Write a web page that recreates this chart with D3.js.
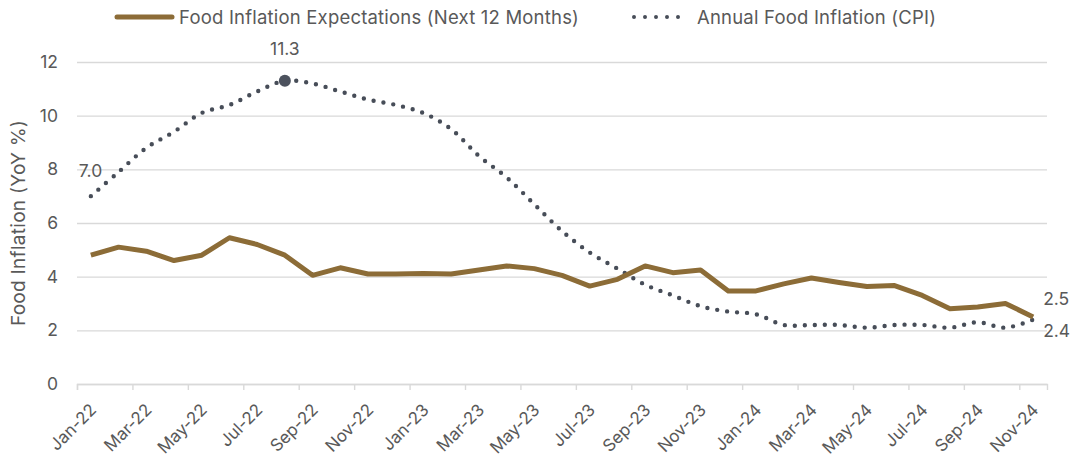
<!DOCTYPE html>
<html>
<head>
<meta charset="utf-8">
<script src="https://cdn.jsdelivr.net/npm/d3@7"></script>
<style>
  html, body { margin: 0; padding: 0; background: #ffffff; }
  svg { display: block; font-family: Inter, "Liberation Sans", Arial, sans-serif; }
</style>
</head>
<body>
<svg id="chart" width="1073" height="459"></svg>
<script>
// Monthly categories, Jan-2022 through Nov-2024
const months = [
  "Jan-22","Feb-22","Mar-22","Apr-22","May-22","Jun-22","Jul-22","Aug-22","Sep-22","Oct-22","Nov-22","Dec-22",
  "Jan-23","Feb-23","Mar-23","Apr-23","May-23","Jun-23","Jul-23","Aug-23","Sep-23","Oct-23","Nov-23","Dec-23",
  "Jan-24","Feb-24","Mar-24","Apr-24","May-24","Jun-24","Jul-24","Aug-24","Sep-24","Oct-24","Nov-24"
];

// Consumers' expected food inflation over the next 12 months (%)
const expectations = [
  4.8, 5.1, 4.95, 4.6, 4.8, 5.45, 5.2, 4.8, 4.05, 4.33, 4.1, 4.1,
  4.12, 4.1, 4.25, 4.4, 4.3, 4.05, 3.65, 3.9, 4.4, 4.15, 4.25, 3.47,
  3.47, 3.73, 3.95, 3.78, 3.63, 3.67, 3.3, 2.8, 2.87, 3.0, 2.5
];

// Annual food inflation, CPI (% YoY)
const cpiFood = [
  7.0, 7.9, 8.8, 9.4, 10.1, 10.4, 10.9, 11.3, 11.2, 10.9, 10.6, 10.4,
  10.1, 9.5, 8.5, 7.7, 6.7, 5.7, 4.9, 4.3, 3.7, 3.3, 2.9, 2.7,
  2.6, 2.2, 2.2, 2.2, 2.1, 2.2, 2.2, 2.1, 2.3, 2.1, 2.4
];

const yTicks = [0, 2, 4, 6, 8, 10, 12];
const seriesNames = ["Food Inflation Expectations (Next 12 Months)", "Annual Food Inflation (CPI)"];
const yTitle = "Food Inflation (YoY %)";

const brown = "#8c6c37";
const slate = "#474d58";
const grid = "#d9d9d9";
const textCol = "#595959";

const svg = d3.select("#chart");
const plot = { left: 77, right: 1047, top: 62, bottom: 384 };

// Category index scale: month i occupies [i, i+1]; points sit at i + 0.5
const xi = d3.scaleLinear().domain([0, months.length]).range([plot.left, plot.right]);
const band = xi(1) - xi(0);
const y = d3.scaleLinear().domain([0, 12]).range([plot.bottom, plot.top]);
const px = i => xi(i + 0.5);

// Horizontal gridlines with value labels
const yAxis = svg.append("g")
  .attr("transform", `translate(${plot.left},0)`)
  .call(d3.axisLeft(y).tickValues(yTicks).tickSize(-(plot.right - plot.left)).tickPadding(19).tickFormat(d3.format("d")));
yAxis.select(".domain").remove();
yAxis.selectAll(".tick line").attr("stroke", grid).attr("stroke-width", 1.4);
yAxis.selectAll(".tick text")
  .attr("fill", textCol).attr("font-size", 17.5).attr("font-family", "Inter, sans-serif");

// Category axis: ticks on month boundaries, labels on every other month
const xAxis = svg.append("g")
  .attr("transform", `translate(0,${plot.bottom})`)
  .call(d3.axisBottom(xi)
    .tickValues(d3.range(0, months.length, 2))
    .tickSize(6)
    .tickFormat(i => months[i]));
xAxis.select(".domain").attr("stroke", grid).attr("stroke-width", 1.4);
xAxis.selectAll(".tick line").attr("stroke", grid).attr("stroke-width", 1.4);
xAxis.selectAll(".tick text")
  .attr("fill", textCol)
  .attr("font-size", 17)
  .attr("font-family", "Inter, sans-serif")
  .attr("text-anchor", "end")
  .attr("dy", null)
  .attr("y", 0)
  .attr("transform", `translate(${band / 2 + 6},27) rotate(-45)`);

// Y axis title
svg.append("text")
  .attr("transform", `translate(25,${(plot.top + plot.bottom) / 2}) rotate(-90)`)
  .attr("text-anchor", "middle")
  .attr("fill", textCol)
  .attr("font-size", 19)
  .attr("letter-spacing", 0.3)
  .text(yTitle);

// CPI food inflation: smoothed dotted line
const cpiLine = d3.line().x((d, i) => px(i)).y(d => y(d)).curve(d3.curveCatmullRom.alpha(0.5));
svg.append("path")
  .datum(cpiFood)
  .attr("d", cpiLine)
  .attr("fill", "none")
  .attr("stroke", slate)
  .attr("stroke-width", 4.4)
  .attr("stroke-linecap", "round")
  .attr("stroke-dasharray", "0 10");

// Expectations: solid line
const expLine = d3.line().x((d, i) => px(i)).y(d => y(d));
svg.append("path")
  .datum(expectations)
  .attr("d", expLine)
  .attr("fill", "none")
  .attr("stroke", brown)
  .attr("stroke-width", 5)
  .attr("stroke-linejoin", "round");

// Peak marker and value callouts
const peakIdx = cpiFood.indexOf(d3.max(cpiFood));
svg.append("circle")
  .attr("cx", px(peakIdx)).attr("cy", y(cpiFood[peakIdx])).attr("r", 6)
  .attr("fill", "#4c525e");

const fmt = d3.format(".1f");
const callouts = [
  { x: px(peakIdx), y: y(cpiFood[peakIdx]) - 26, v: cpiFood[peakIdx], anchor: "middle" },
  { x: px(0) - 12, y: y(cpiFood[0]) - 19, v: cpiFood[0], anchor: "start" },
  { x: px(months.length - 1) + 10, y: y(expectations[expectations.length - 1]) - 12, v: expectations[expectations.length - 1], anchor: "start" },
  { x: px(months.length - 1) + 10, y: y(cpiFood[cpiFood.length - 1]) + 17, v: cpiFood[cpiFood.length - 1], anchor: "start" }
];
svg.append("g").selectAll("text")
  .data(callouts)
  .join("text")
  .attr("x", d => d.x).attr("y", d => d.y)
  .attr("text-anchor", d => d.anchor)
  .attr("fill", textCol)
  .attr("font-size", 17.5)
  .text(d => fmt(d.v));

// Legend
const legend = svg.append("g");
legend.append("line")
  .attr("x1", 117).attr("x2", 172).attr("y1", 17).attr("y2", 17)
  .attr("stroke", brown).attr("stroke-width", 5).attr("stroke-linecap", "round");
legend.append("text")
  .attr("x", 179).attr("y", 24)
  .attr("fill", textCol).attr("font-size", 18.5).attr("letter-spacing", 0.2)
  .text(seriesNames[0]);
legend.append("line")
  .attr("x1", 634).attr("x2", 689).attr("y1", 17).attr("y2", 17)
  .attr("stroke", slate).attr("stroke-width", 4).attr("stroke-linecap", "round")
  .attr("stroke-dasharray", "0 11");
legend.append("text")
  .attr("x", 697).attr("y", 24)
  .attr("fill", textCol).attr("font-size", 18.5).attr("letter-spacing", 0.2)
  .text(seriesNames[1]);
</script>
</body>
</html>
